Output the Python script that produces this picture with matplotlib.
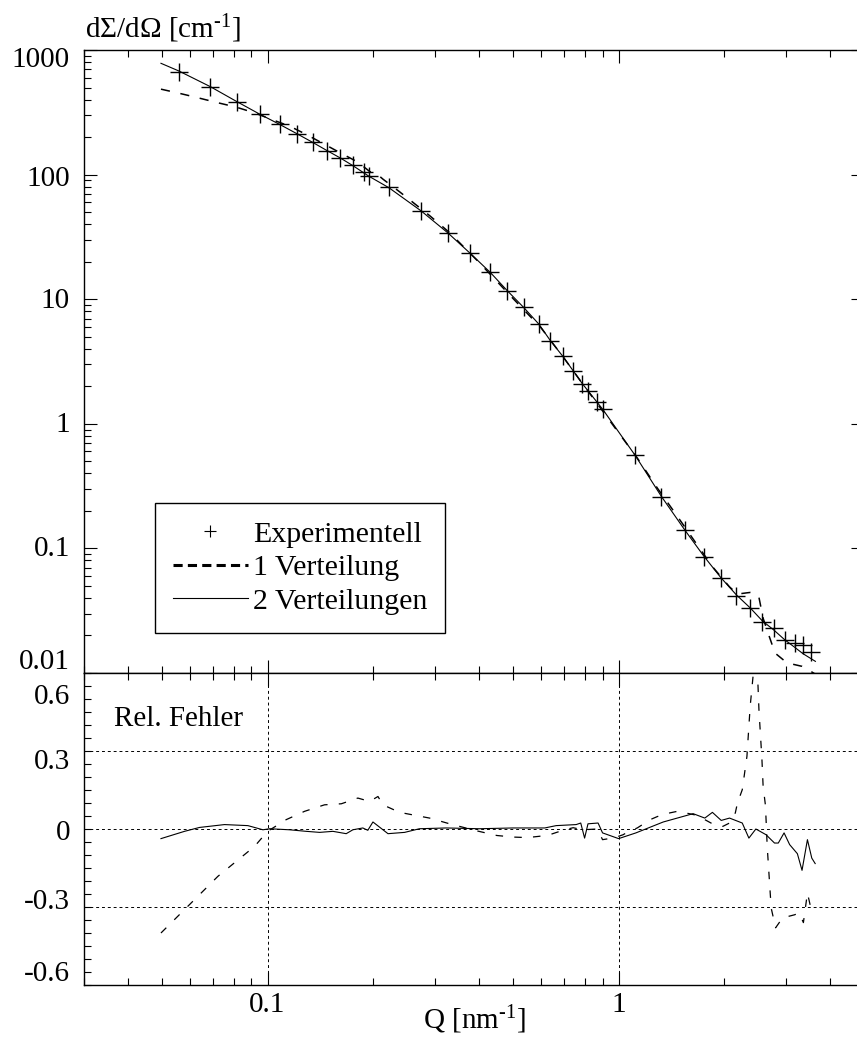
import numpy as np
import matplotlib
matplotlib.use('Agg')
import matplotlib.pyplot as plt
from matplotlib.lines import Line2D
from matplotlib import transforms
from matplotlib.ticker import LogLocator, MultipleLocator, FixedLocator, NullFormatter

plt.rcParams['font.family'] = ['Liberation Serif', 'DejaVu Serif']
plt.rcParams['mathtext.fontset'] = 'custom'
plt.rcParams['mathtext.rm'] = 'Liberation Serif'
plt.rcParams['mathtext.it'] = 'Liberation Serif:italic'

# measured scattering curve (markers)
exp_q = [0.0558, 0.0687, 0.0818, 0.0949, 0.1082, 0.1212, 0.1346, 0.1476, 0.1611,
         0.1750, 0.1877, 0.1944, 0.2216, 0.2741, 0.3265, 0.3780, 0.4310, 0.4818,
         0.5362, 0.5929, 0.6391, 0.6941, 0.7411, 0.7882, 0.8177, 0.8675, 0.9023,
         1.116, 1.323, 1.542, 1.747, 1.953, 2.164, 2.373, 2.567, 2.764, 2.971,
         3.172, 3.350, 3.540]
exp_i = [670, 503, 386, 308, 254, 213, 183, 156, 136,
         120, 105, 96.9, 79.1, 50.9, 34.2, 23.3, 16.4, 11.65,
         8.58, 6.31, 4.64, 3.48, 2.67, 2.09, 1.85, 1.49, 1.32,
         0.558, 0.259, 0.140, 0.0858, 0.0575, 0.0418, 0.0335, 0.0259, 0.0229, 0.0185,
         0.0174, 0.01684, 0.01472]

# fit with one size distribution
fit1_q = [0.0497, 0.0561, 0.0626, 0.0714, 0.0814, 0.0918, 0.1013, 0.1155, 0.1289,
          0.1453, 0.1622, 0.1808, 0.1953, 0.2063, 0.2131, 0.2377, 0.2894, 0.330,
          0.400, 0.500, 0.600, 0.694, 0.790, 0.900, 1.00, 1.13, 1.29, 1.47, 1.64,
          1.85, 2.07, 2.18, 2.32, 2.37, 2.46, 2.51, 2.58, 2.68, 2.79, 2.98, 3.09,
          3.33, 3.49, 3.63]
fit1_i = [485, 449, 417, 380, 348, 313, 281, 245, 210,
          175, 148, 126, 106, 99.5, 92, 72.8, 46.9, 34.2,
          19.8, 10.15, 5.93, 3.46, 2.09, 1.27, 0.847, 0.532, 0.304, 0.181, 0.116,
          0.0714, 0.0491, 0.0430, 0.0440, 0.0443, 0.0434, 0.0405, 0.0275, 0.0200,
          0.01445, 0.01241, 0.01187, 0.01131, 0.01051, 0.0098]

# fit with two size distributions
fit2_q = [0.0497, 0.0558, 0.0687, 0.0818, 0.0949, 0.1082, 0.1212, 0.1346, 0.1476,
          0.1611, 0.175, 0.1944, 0.2216, 0.2741, 0.3265, 0.378, 0.431, 0.4818,
          0.5362, 0.5929, 0.6391, 0.6941, 0.7882, 0.9023, 1.116, 1.323, 1.542,
          1.747, 1.953, 2.164, 2.373, 2.567, 2.764, 2.971, 3.172, 3.35, 3.635]
fit2_i = [782, 680, 508, 385, 306, 253, 213, 181, 156,
          136, 118, 97, 78.5, 51, 34, 23.3, 16.4, 11.7,
          8.6, 6.3, 4.65, 3.47, 2.10, 1.30, 0.555, 0.262, 0.141,
          0.087, 0.0585, 0.0424, 0.0332, 0.0262, 0.0222, 0.0185, 0.0161, 0.0143, 0.0124]

# relative deviation, one distribution
err1_q = [0.0497, 0.058, 0.0722, 0.0918, 0.1, 0.113, 0.1275, 0.1453, 0.1622, 0.1808,
          0.1953, 0.2063, 0.2131, 0.2377, 0.2894, 0.330, 0.397, 0.45, 0.50, 0.55,
          0.595, 0.636, 0.694, 0.742, 0.79, 0.87, 0.90, 0.96, 1.0, 1.03, 1.07, 1.13,
          1.23, 1.29, 1.40, 1.47, 1.55, 1.64, 1.76, 1.85, 1.98, 2.07, 2.15, 2.18,
          2.25, 2.32, 2.37, 2.42, 2.47, 2.51, 2.56, 2.58, 2.62, 2.65, 2.72, 2.80,
          2.93, 3.17, 3.27, 3.36, 3.45, 3.52, 3.63]
err1 = [-0.400, -0.310, -0.182, -0.067, -0.009, 0.036, 0.068, 0.093, 0.097, 0.119,
        0.106, 0.125, 0.093, 0.064, 0.042, 0.020, -0.008, -0.025, -0.031, -0.033,
        -0.028, -0.022, -0.005, 0.005, -0.003, 0.000, -0.041, -0.035, -0.028, -0.022, -0.009, 0.004,
        0.036, 0.048, 0.062, 0.068, 0.062, 0.055, 0.036, 0.020, 0.010, 0.023, 0.062, 0.100,
        0.151, 0.279, 0.472, 0.600, 0.700, 0.460, 0.267, 0.164, 0.090, -0.067, -0.304, -0.380,
        -0.342, -0.330, -0.323, -0.360, -0.246, -0.298, -0.304]

# relative deviation, two distributions
err2_q = [0.0497, 0.058, 0.064, 0.0754, 0.0879, 0.097, 0.1013, 0.1155, 0.1289, 0.1407,
          0.1535, 0.1675, 0.175, 0.1868, 0.193, 0.1996, 0.2203, 0.2457, 0.2708, 0.323,
          0.401, 0.50, 0.616, 0.664, 0.757, 0.78, 0.80, 0.818, 0.874, 0.90, 1.0, 1.12,
          1.34, 1.63, 1.76, 1.85, 1.96, 2.07, 2.25, 2.35, 2.46, 2.63, 2.78, 2.85, 2.96,
          3.07, 3.23, 3.33, 3.45, 3.55, 3.63]
err2 = [-0.037, -0.009, 0.006, 0.017, 0.013, -0.003, 0.001, -0.003, -0.009, -0.013,
        -0.009, -0.018, -0.003, 0.004, -0.005, 0.027, -0.018, -0.013, 0.001, 0.004,
        0.001, 0.004, 0.004, 0.013, 0.017, 0.023, -0.035, 0.020, 0.023, -0.015, -0.037, -0.015,
        0.027, 0.059, 0.042, 0.064, 0.033, 0.042, 0.023, -0.035, 0.000, -0.022, -0.054, -0.054, -0.015,
        -0.060, -0.095, -0.159, -0.041, -0.112, -0.133]

upper_ticks = [1000, 100, 10, 1, 0.1, 0.01]
upper_labels = ['1000', '100', '10', '1', '0.1', '0.01']
lower_ticks = [0.6, 0.3, 0, -0.3, -0.6]
lower_labels = ['0.6', '0.3', '0', '-0.3', '-0.6']

W, H = 857, 1044
fig = plt.figure(figsize=(W / 100, H / 100), dpi=100)
FS = 21


def box(l, t, r, b):
    return [l / W, 1 - b / H, (r - l) / W, (b - t) / H]


ax1 = fig.add_axes(box(84, 50, 864, 673))
ax2 = fig.add_axes(box(84, 673, 864, 985))

dash = (0, (6, 7))

ax1.plot(exp_q, exp_i, ls='none', marker='+', ms=13, mew=1.0, color='k')
ax1.plot(fit1_q, fit1_i, ls=dash, lw=1.1, color='k')
ax1.plot(fit2_q, fit2_i, lw=0.8, color='k')
ax1.set_xscale('log')
ax1.set_yscale('log')
ax1.set_xlim(0.03, 5)
ax1.set_ylim(0.01, 1000)

ax2.plot(err1_q, err1, ls=(0, (6, 9)), lw=0.9, color='k')
ax2.plot(err2_q, err2, lw=0.8, color='k')
ax2.set_xscale('log')
ax2.set_xlim(0.03, 5)
ax2.set_ylim(-0.6, 0.6)
for y in (-0.3, 0, 0.3):
    ax2.axhline(y, color='k', lw=0.7, ls=(0, (3, 3)), zorder=0)
for x in (0.1, 1):
    ax2.axvline(x, color='k', lw=0.7, ls=(0, (3, 3)), zorder=0)

for ax in (ax1, ax2):
    for s in ax.spines.values():
        s.set_linewidth(1.0)
    ax.xaxis.set_major_locator(FixedLocator([0.1, 1]))
    ax.xaxis.set_minor_locator(LogLocator(base=10, subs=np.arange(2, 10)))
    ax.xaxis.set_minor_formatter(NullFormatter())
    ax.tick_params(which='both', direction='in', top=True, right=True, width=0.8)
    ax.tick_params(which='major', length=9.5)
    ax.tick_params(which='minor', length=5)

ax1.set_xticklabels([])
ax1.yaxis.set_major_locator(FixedLocator(upper_ticks))
ax1.yaxis.set_minor_locator(LogLocator(base=10, subs=np.arange(2, 10)))
ax1.yaxis.set_minor_formatter(NullFormatter())
ax1.yaxis.set_major_formatter(NullFormatter())

ax2.yaxis.set_major_locator(FixedLocator(lower_ticks))
ax2.yaxis.set_minor_locator(MultipleLocator(0.05))
ax2.yaxis.set_major_formatter(NullFormatter())
ax2.tick_params(axis='y', which='major', length=5)
ax2.set_xticks([0.1, 1], ['0.1', '1'])
ax2.tick_params(axis='x', labelsize=FS, pad=5)

# y tick labels, baseline shifted by a few pixels as in the original plot program
upper_dy = [17, 11, 9, 8, 8, -4]
lower_dy = [31, 18, 11, 2, -4]


def put_labels(ax, vals, labels, offsets):
    base = transforms.blended_transform_factory(ax.transAxes, ax.transData)
    for v, s, dy in zip(vals, labels, offsets):
        tr = base + transforms.ScaledTranslation(-14 / 100, -dy / 100, fig.dpi_scale_trans)
        ax.text(0, v, s, transform=tr, ha='right', va='baseline', fontsize=FS)


put_labels(ax1, upper_ticks, upper_labels, upper_dy)
put_labels(ax2, lower_ticks, lower_labels, lower_dy)

fig.text(85 / W, 1 - 38 / H, r'd$\Sigma$/d$\Omega$ [cm$^{\text{-}1}$]', fontsize=FS,
         ha='left', va='baseline')
fig.text(474 / W, 1 - 1029 / H, r'Q [nm$^{\text{-}1}$]', fontsize=FS,
         ha='center', va='baseline')
fig.text(114 / W, 1 - 726 / H, 'Rel. Fehler', fontsize=FS, ha='left', va='baseline')

handles = [Line2D([], [], ls='none', marker='+', ms=9, mew=0.8, color='k'),
           Line2D([], [], ls=(0, (3, 1.7)), lw=2.2, color='k'),
           Line2D([], [], lw=0.8, color='k')]
leg = ax1.legend(handles, ['Experimentell', '1 Verteilung', '2 Verteilungen'],
                 loc='upper left', bbox_to_anchor=(155 / W, 1 - 503 / H),
                 bbox_transform=fig.transFigure, borderaxespad=0, fancybox=False,
                 edgecolor='k', fontsize=21.5, handlelength=2.5, handletextpad=0.17,
                 labelspacing=0.22, borderpad=0.6, framealpha=1)
leg.get_frame().set_linewidth(1.0)

fig.savefig('out.png', dpi=100)
